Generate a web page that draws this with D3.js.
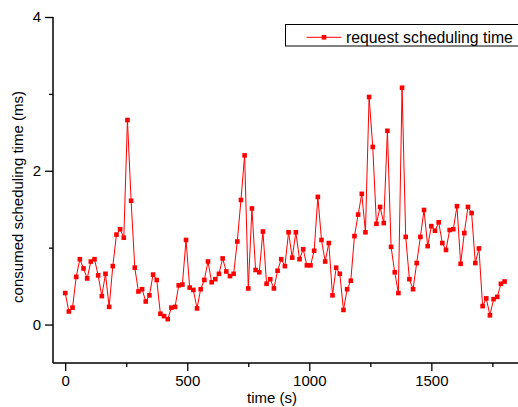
<!DOCTYPE html>
<html><head><meta charset="utf-8">
<script src="https://cdn.jsdelivr.net/npm/d3@7"></script>
<style>html,body{margin:0;padding:0;background:#fff;}svg{display:block;font-family:"Liberation Sans",Arial,sans-serif;}</style>
</head><body><svg id="c" width="518" height="407"></svg>
<script>
const times = [0,15,30,45,60,75,90,105,120,135,150,165,180,195,210,225,240,255,270,285,
300,315,330,345,360,375,390,405,420,435,450,465,480,495,510,525,540,555,570,585,
600,615,630,645,660,675,690,705,720,735,750,765,780,795,810,825,840,855,870,885,
900,915,930,945,960,975,990,1005,1020,1035,1050,1065,1080,1095,1110,1125,1140,1155,1170,1185,
1200,1215,1230,1245,1260,1275,1290,1305,1320,1335,1350,1365,1380,1395,1410,1425,1440,1455,1470,1485,
1500,1515,1530,1545,1560,1575,1590,1605,1620,1635,1650,1665,1680,1695,1710,1725,1740,1755,1770,1785,1800];
const values = [0.41,0.17,0.22,0.62,0.85,0.73,0.60,0.82,0.85,0.64,0.37,0.66,0.23,0.76,1.17,1.24,1.13,2.66,1.61,0.74,
0.43,0.46,0.30,0.38,0.65,0.58,0.14,0.11,0.07,0.22,0.23,0.51,0.52,1.10,0.48,0.45,0.21,0.46,0.58,0.82,
0.55,0.59,0.66,0.86,0.69,0.63,0.66,1.08,1.62,2.20,0.47,1.51,0.71,0.68,1.21,0.53,0.59,0.47,0.70,0.85,
0.76,1.20,0.87,1.20,0.85,0.98,0.77,0.77,0.96,1.66,1.10,0.82,1.06,0.38,0.74,0.66,0.19,0.46,0.57,1.15,
1.43,1.70,1.20,2.96,2.31,1.31,1.53,1.32,2.52,1.01,0.68,0.41,3.08,1.14,0.59,0.46,0.80,1.14,1.49,1.02,
1.28,1.22,1.33,1.06,0.97,1.23,1.24,1.54,0.79,1.19,1.53,1.45,0.80,0.99,0.24,0.34,0.12,0.33,0.36,0.53,0.56];
const xMajor = [0,500,1000,1500];
const xMinor = [250,750,1250,1750];
const yMajor = [0,2,4];
const yMinor = [1,3];
const seriesName = "request scheduling time";
const xTitle = "time (s)";
const yTitle = "consumed scheduling time (ms)";

const svg = d3.select("#c");
const x = d3.scaleLinear().domain([-50,1855]).range([53,518]);
const y = d3.scaleLinear().domain([-0.5,4]).range([363,17]);
const fs = 15;

// axes
const xg = svg.append("g").attr("transform","translate(0,363)");
xg.call(d3.axisBottom(x).tickValues(xMajor).tickSize(8).tickPadding(4).tickFormat(d3.format("d")));
const xg2 = svg.append("g").attr("transform","translate(0,363)");
xg2.call(d3.axisBottom(x).tickValues(xMinor).tickSize(4).tickFormat(""));
const yg = svg.append("g").attr("transform","translate(53,0)");
yg.call(d3.axisLeft(y).tickValues(yMajor).tickSize(8).tickPadding(4).tickFormat(d3.format("d")));
const yg2 = svg.append("g").attr("transform","translate(53,0)");
yg2.call(d3.axisLeft(y).tickValues(yMinor).tickSize(4).tickFormat(""));
svg.selectAll(".domain").attr("stroke","#000").attr("stroke-width",1.5);
svg.selectAll(".tick line").attr("stroke","#000").attr("stroke-width",1.3);
svg.selectAll(".tick text").attr("font-size",fs).attr("fill","#000").attr("font-family","Liberation Sans, Arial, sans-serif");
xg2.select(".domain").remove(); yg2.select(".domain").remove();
xg.select(".domain").attr("d",`M${x(-50)},0H${x(1855)}`);
yg.select(".domain").attr("d",`M0,${y(4)}V${y(-0.5)}`);

// titles
svg.append("text").attr("x",272).attr("y",403).attr("text-anchor","middle")
  .attr("font-size",fs).attr("fill","#000").text(xTitle);
svg.append("text").attr("transform","translate(23,197) rotate(-90)").attr("text-anchor","middle")
  .attr("font-size",fs).attr("fill","#000").text(yTitle);

// series
const data = times.map((t,i)=>({t, v: values[i]}));
svg.append("path").datum(data).attr("fill","none").attr("stroke","#ff0000").attr("stroke-width",1)
  .attr("d", d3.line().x(d=>x(d.t)).y(d=>y(d.v)));
svg.append("g").selectAll("rect").data(data).join("rect")
  .attr("x",d=>x(d.t)-2.3).attr("y",d=>y(d.v)-2.3).attr("width",4.6).attr("height",4.6).attr("fill","#ff0000");

// legend
const lg = svg.append("g");
lg.append("rect").attr("x",285.5).attr("y",24.5).attr("width",240).attr("height",21.5)
  .attr("fill","#fff").attr("stroke","#000").attr("stroke-width",1);
lg.append("line").attr("x1",306.5).attr("x2",341.5).attr("y1",37.3).attr("y2",37.3).attr("stroke","#ff0000").attr("stroke-width",1);
lg.append("rect").attr("x",324-2.3).attr("y",37.3-2.3).attr("width",4.6).attr("height",4.6).attr("fill","#ff0000");
lg.append("text").attr("x",346).attr("y",42.8).attr("font-size",15.8).attr("fill","#000").text(seriesName);
</script></body></html>
